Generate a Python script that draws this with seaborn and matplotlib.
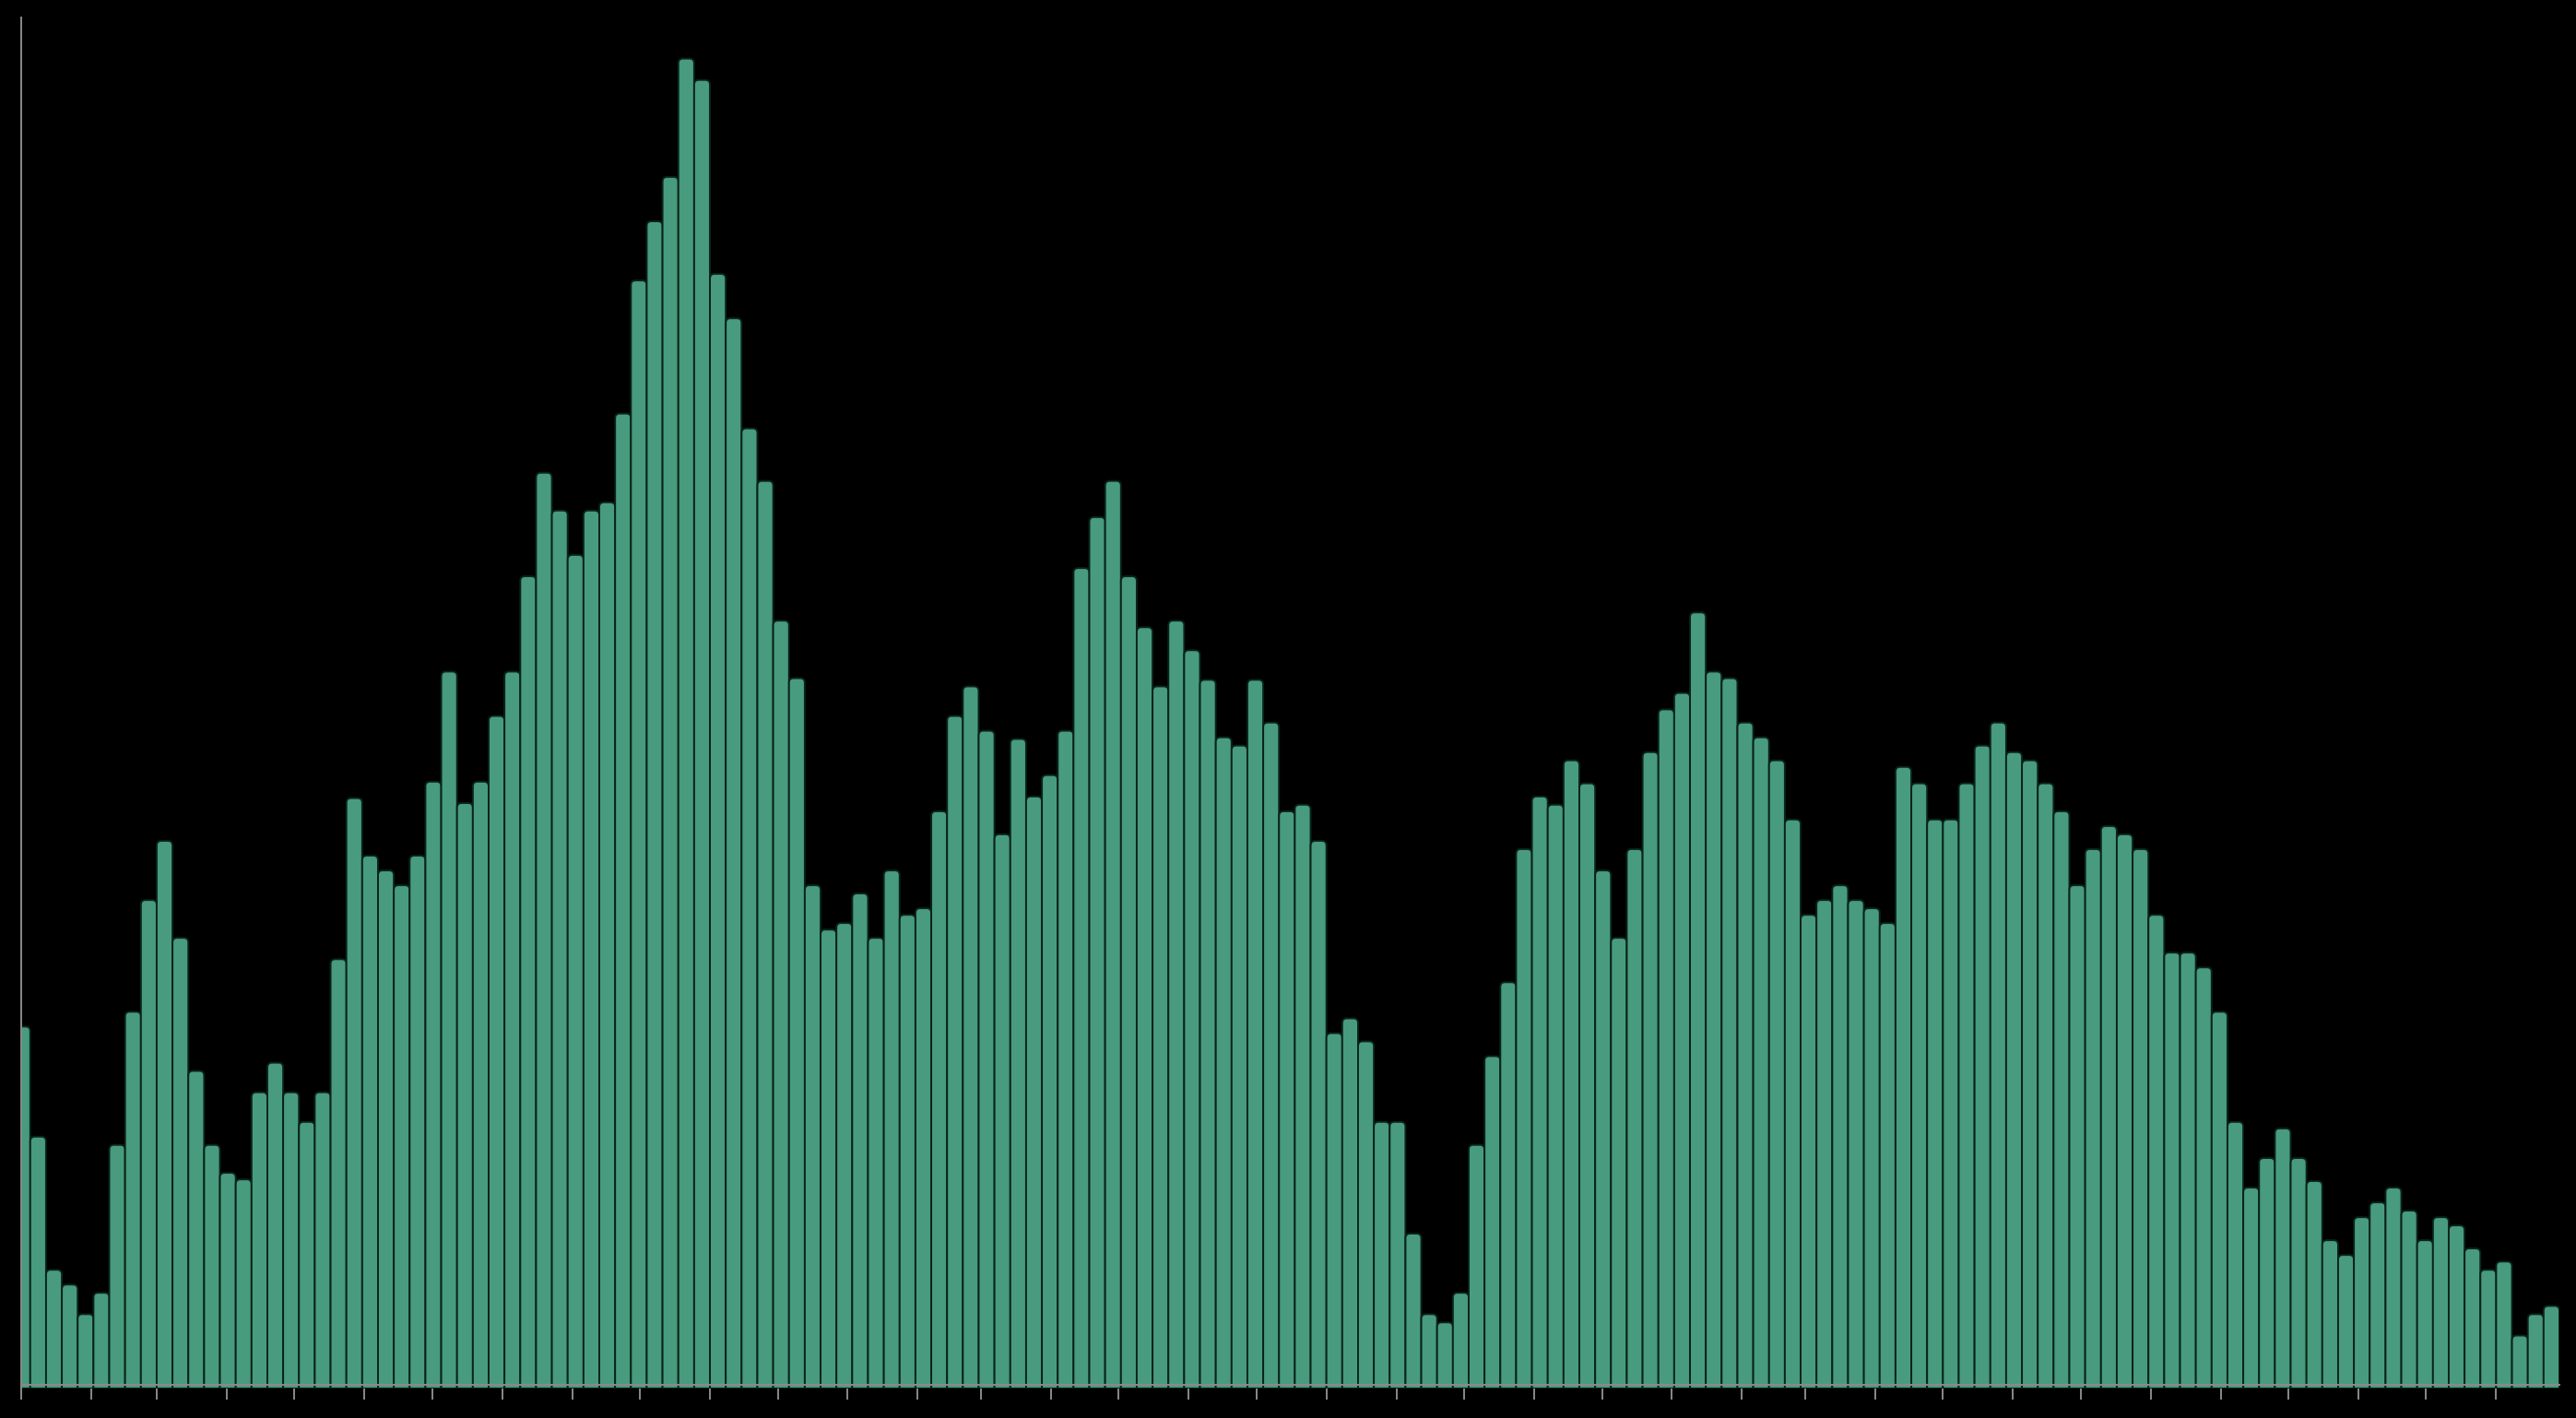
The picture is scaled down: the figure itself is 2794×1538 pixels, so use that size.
import numpy as np
import pandas as pd
import matplotlib
matplotlib.use("Agg")
import matplotlib.pyplot as plt
import matplotlib.dates as mdates
from matplotlib.path import Path
from matplotlib.patches import PathPatch
import seaborn as sns

# ---- data (weekly values, first week starts 2019-12-29) ----
first_week = "2019-12-29"
n_weeks = 161
values = [
    218, 151, 70, 61, 43, 56, 146, 227, 295, 331,
    272, 191, 146, 129, 125, 178, 196, 178, 160, 178,
    259, 357, 322, 313, 304, 322, 367, 434, 354, 367,
    407, 434, 492, 555, 532, 505, 532, 537, 591, 672,
    708, 735, 807, 794, 676, 649, 582, 550, 465, 430,
    304, 277, 281, 299, 272, 313, 286, 290, 349, 407,
    425, 398, 335, 393, 358, 371, 398, 497, 528, 550,
    492, 461, 425, 465, 447, 429, 394, 389, 429, 403,
    349, 353, 331, 214, 223, 209, 160, 160, 92, 43,
    38, 56, 146, 200, 245, 326, 358, 353, 380, 366,
    313, 272, 326, 385, 411, 421, 470, 434, 430, 403,
    394, 380, 344, 286, 295, 304, 295, 290, 281, 376,
    366, 344, 344, 366, 389, 403, 385, 380, 366, 349,
    304, 326, 340, 335, 326, 286, 263, 263, 254, 227,
    160, 120, 138, 156, 138, 124, 88, 79, 102, 111,
    120, 106, 88, 102, 97, 83, 70, 75, 30, 43,
    48,
]
x_start = "2020-01-01"
x_end = "2023-01-29"
y_max = 832

bar_color = "#489b7e"
edge_color = "#0a241a"
axis_color = "#8a8a8a"

# ---- build frame ----
week_starts = pd.date_range(first_week, periods=n_weeks, freq="7D")
centers = mdates.date2num(week_starts + pd.Timedelta(hours=84))
df = pd.DataFrame({"x": centers, "y": values})

sns.set_style("ticks")
W, H = 2794, 1538
fig = plt.figure(figsize=(W / 100, H / 100), dpi=100)
fig.patch.set_facecolor("black")
# axes spans px 19..1506 vertically; the axis line sits at px 1502 (data 0)
ax = fig.add_axes([23 / W, 32 / H, (2776 - 23) / W, (1506 - 19) / H])
ax.set_facecolor("black")

sns.barplot(data=df, x="x", y="y", native_scale=True, width=1.0, orient="x",
            color=bar_color, saturation=1, edgecolor=edge_color, linewidth=1.4,
            errorbar=None, ax=ax)

ext = y_max * 4 / 1483
ax.set_xlim(mdates.date2num(pd.Timestamp(x_start)), mdates.date2num(pd.Timestamp(x_end)))
ax.set_ylim(-ext, y_max)
month_ticks = pd.date_range(x_start, x_end, freq="MS")
ax.set_xticks(mdates.date2num(month_ticks))
ax.set_yticks([])
ax.set_xlabel("")
ax.set_ylabel("")
ax.grid(False)

for s in ["top", "right"]:
    ax.spines[s].set_visible(False)
for s in ["left", "bottom"]:
    ax.spines[s].set_color(axis_color)
    ax.spines[s].set_linewidth(1.4)
    ax.spines[s].set_zorder(5)
ax.spines["bottom"].set_position(("data", 0))
ax.tick_params(axis="x", length=11.5, width=1.4, color=axis_color, labelbottom=False)
ax.tick_params(axis="y", length=0, labelleft=False)

# ---- round the top corners of the bars ----
fig.canvas.draw()
bb = ax.get_window_extent()
x0l, x1l = ax.get_xlim()
y0l, y1l = ax.get_ylim()
dxp = (x1l - x0l) / bb.width
dyp = (y1l - y0l) / bb.height
r_px = 5
for p in list(ax.patches):
    x0 = p.get_x()
    w, h = p.get_width(), p.get_height()
    x1, y1 = x0 + w, p.get_y() + h
    y0 = y0l
    rx = min(r_px * dxp, w / 2)
    ry = min(r_px * dyp, h)
    verts = [(x0, y0), (x0, y1 - ry), (x0, y1), (x0 + rx, y1), (x1 - rx, y1),
             (x1, y1), (x1, y1 - ry), (x1, y0), (x0, y0)]
    codes = [Path.MOVETO, Path.LINETO, Path.CURVE3, Path.CURVE3, Path.LINETO,
             Path.CURVE3, Path.CURVE3, Path.LINETO, Path.CLOSEPOLY]
    newp = PathPatch(Path(verts, codes), facecolor=p.get_facecolor(),
                     edgecolor=p.get_edgecolor(), linewidth=p.get_linewidth(),
                     zorder=p.get_zorder())
    p.remove()
    ax.add_patch(newp)

fig.savefig("out.png", dpi=100, facecolor="black")
